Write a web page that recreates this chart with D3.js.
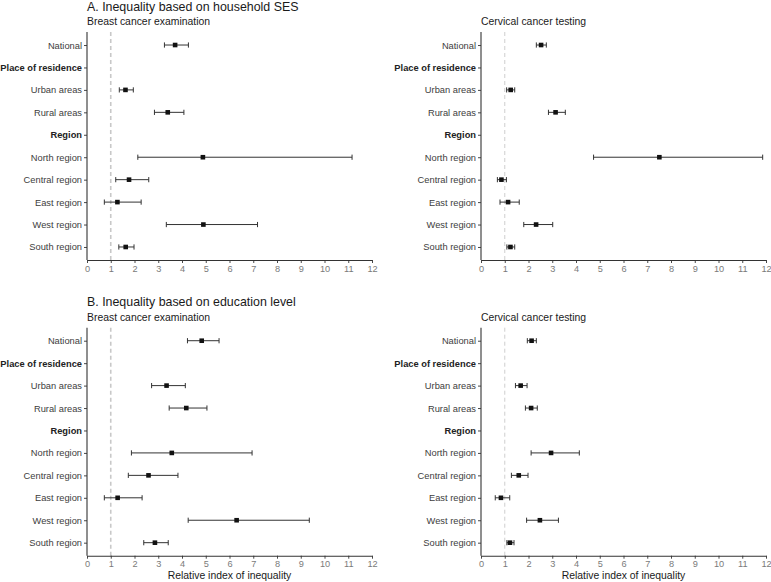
<!DOCTYPE html>
<html>
<head>
<meta charset="utf-8">
<script src="https://cdn.jsdelivr.net/npm/d3@7/dist/d3.min.js"></script>
<style>
  html, body { margin: 0; padding: 0; background: #fff; }
  svg { display: block; font-family: "Liberation Sans", Arial, sans-serif; }
</style>
</head>
<body>
<svg id="chart" width="771" height="582"></svg>
<script>
// ---------- data ----------
const categories = ["National", "Place of residence", "Urban areas", "Rural areas", "Region",
  "North region", "Central region", "East region", "West region", "South region"];
const headerCategories = ["Place of residence", "Region"];
const xTickValues = [0, 1, 2, 3, 4, 5, 6, 7, 8, 9, 10, 11, 12];
const referenceValue = 1;

const sectionTitles = ["A. Inequality based on household SES", "B. Inequality based on education level"];
const panelSubtitles = ["Breast cancer examination", "Cervical cancer testing"];
const xAxisTitle = "Relative index of inequality";

// A. household SES — breast cancer examination
const sesBreastEst   = [3.71, null, 1.62, 3.40, null, 4.88, 1.77, 1.28, 4.90, 1.63];
const sesBreastLow   = [3.26, null, 1.36, 2.84, null, 2.14, 1.21, 0.73, 3.34, 1.34];
const sesBreastHigh  = [4.27, null, 1.95, 4.08, null, 11.16, 2.60, 2.28, 7.18, 1.98];
// A. household SES — cervical cancer testing
const sesCervixEst   = [2.53, null, 1.25, 3.14, null, 7.51, 0.86, 1.14, 2.32, 1.24];
const sesCervixLow   = [2.33, null, 1.08, 2.84, null, 4.74, 0.69, 0.80, 1.80, 1.09];
const sesCervixHigh  = [2.75, null, 1.42, 3.55, null, 11.86, 1.07, 1.61, 3.02, 1.42];
// B. education — breast cancer examination
const eduBreastEst   = [4.83, null, 3.35, 4.18, null, 3.57, 2.59, 1.29, 6.30, 2.86];
const eduBreastLow   = [4.23, null, 2.72, 3.46, null, 1.87, 1.74, 0.73, 4.26, 2.39];
const eduBreastHigh  = [5.56, null, 4.14, 5.05, null, 6.95, 3.83, 2.32, 9.36, 3.42];
// B. education — cervical cancer testing
const eduCervixEst   = [2.13, null, 1.67, 2.11, null, 2.95, 1.59, 0.84, 2.48, 1.22];
const eduCervixLow   = [1.95, null, 1.45, 1.87, null, 2.11, 1.28, 0.60, 1.92, 1.09];
const eduCervixHigh  = [2.33, null, 1.94, 2.37, null, 4.14, 1.98, 1.21, 3.26, 1.39];

// ---------- layout ----------
const svg = d3.select("#chart");
const panelW = 285;
const panelH = 228;
const lefts = [87, 481];
const tops = [32, 327.7];

const panels = [
  { col: 0, row: 0, est: sesBreastEst, low: sesBreastLow, high: sesBreastHigh, dashW: 1.6 },
  { col: 1, row: 0, est: sesCervixEst, low: sesCervixLow, high: sesCervixHigh, dashW: 0.9 },
  { col: 0, row: 1, est: eduBreastEst, low: eduBreastLow, high: eduBreastHigh, dashW: 1.6 },
  { col: 1, row: 1, est: eduCervixEst, low: eduCervixLow, high: eduCervixHigh, dashW: 0.9 }
];

// section titles
sectionTitles.forEach((t, i) => {
  svg.append("text")
    .attr("x", lefts[0]).attr("y", tops[i] - 21.5)
    .attr("font-size", 12.4).attr("fill", "#1a1a1a")
    .text(t);
});

panels.forEach(p => {
  const x0 = lefts[p.col], y0 = tops[p.row];
  const g = svg.append("g").attr("transform", `translate(${x0},${y0})`);

  const x = d3.scaleLinear().domain([0, 12]).range([0, panelW]);
  const y = d3.scalePoint().domain(categories).range([0, panelH]).padding(0.58);

  // subtitle
  g.append("text")
    .attr("x", 0).attr("y", -7)
    .attr("font-size", 10.4).attr("fill", "#1a1a1a")
    .text(panelSubtitles[p.col]);

  // reference dashed line
  g.append("line")
    .attr("x1", x(referenceValue)).attr("x2", x(referenceValue))
    .attr("y1", 0).attr("y2", panelH)
    .attr("stroke", "#c8c8c8").attr("stroke-width", p.dashW)
    .attr("stroke-dasharray", "4,3");

  // x axis
  const xAxis = d3.axisBottom(x).tickValues(xTickValues).tickFormat(d3.format("d"))
    .tickSize(3).tickSizeOuter(0).tickPadding(2);
  const gx = g.append("g").attr("transform", `translate(0,${panelH})`).call(xAxis);
  gx.select(".domain").attr("stroke", "#333").attr("stroke-width", 1.1);
  gx.selectAll(".tick line").attr("stroke", "#333").attr("stroke-width", 0.9);
  gx.selectAll(".tick text").attr("font-size", 9.2).attr("fill", "#7a7a7a")
    .attr("font-family", "'Liberation Sans', Arial, sans-serif");

  // y axis
  const yAxis = d3.axisLeft(y).tickSize(3).tickSizeOuter(0).tickPadding(2);
  const gy = g.append("g").call(yAxis);
  gy.select(".domain").attr("stroke", "#333").attr("stroke-width", 1.1)
    .attr("d", `M0,0V${panelH}`);
  gy.selectAll(".tick line").attr("stroke", "#333").attr("stroke-width", 0.9);
  gy.selectAll(".tick text")
    .attr("font-size", 9.3)
    .attr("font-family", "'Liberation Sans', Arial, sans-serif")
    .attr("fill", d => headerCategories.includes(d) ? "#222" : "#3d3d3d")
    .attr("font-weight", d => headerCategories.includes(d) ? "bold" : "normal");

  // error bars
  const rows = categories.map((c, i) => ({ c, est: p.est[i], low: p.low[i], high: p.high[i] }))
    .filter(d => d.est !== null);
  const capH = 2.6;
  const eb = g.append("g");
  rows.forEach(d => {
    const yy = y(d.c);
    eb.append("line").attr("x1", x(d.low)).attr("x2", x(d.high)).attr("y1", yy).attr("y2", yy)
      .attr("stroke", "#333").attr("stroke-width", 1);
    [d.low, d.high].forEach(v => {
      eb.append("line").attr("x1", x(v)).attr("x2", x(v)).attr("y1", yy - capH).attr("y2", yy + capH)
        .attr("stroke", "#333").attr("stroke-width", 1);
    });
  });
  // points
  const s = 4.6;
  g.append("g").selectAll("rect").data(rows).join("rect")
    .attr("x", d => x(d.est) - s / 2).attr("y", d => y(d.c) - s / 2)
    .attr("width", s).attr("height", s).attr("fill", "#111");

  // x axis title for bottom row
  if (p.row === 1) {
    g.append("text")
      .attr("x", panelW / 2).attr("y", panelH + 23.5)
      .attr("text-anchor", "middle").attr("font-size", 10.4).attr("fill", "#1a1a1a")
      .text(xAxisTitle);
  }
});
</script>
</body>
</html>
